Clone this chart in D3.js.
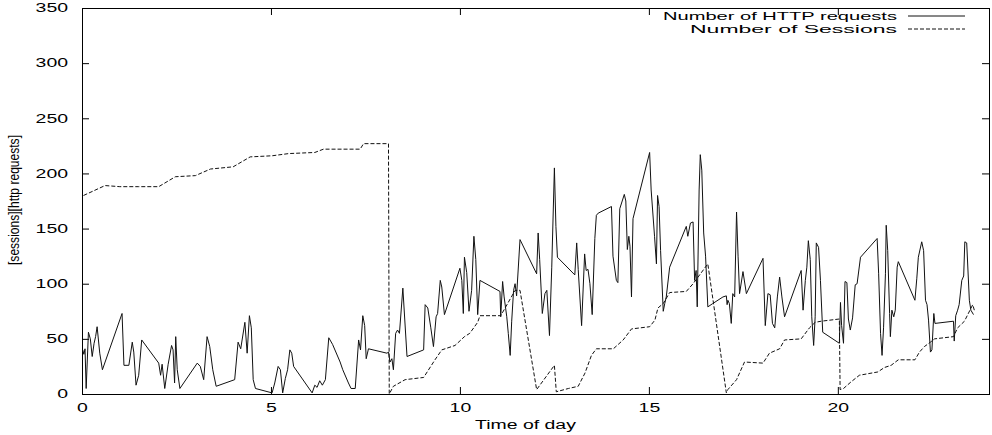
<!DOCTYPE html>
<html lang="en">

<head>
  <meta charset="utf-8">
  <script src="https://d3js.org/d3.v7.min.js"></script>
  <style>
    body {
      margin: 0;
      background: #fff;
      overflow: hidden;
    }

    svg {
      display: block;
    }

    text {
      font-family: "Liberation Sans", Arial, sans-serif;
      font-size: 12px;
      fill: #000;
    }
  </style>
</head>

<body>
  <svg width="992" height="435"></svg>
  <script>
    // values: hour of day, count
    const httpHours = [0.02, 0.05, 0.08, 0.11, 0.17, 0.22, 0.27, 0.32, 0.36, 0.40, 0.47, 0.54, 1.06, 1.11, 1.24, 1.33, 1.37, 1.43, 1.50, 1.58,
      2.03, 2.08, 2.12, 2.19, 2.28, 2.37, 2.41, 2.45, 2.48, 2.52, 2.59, 3.05, 3.13, 3.22, 3.31, 3.38, 3.46, 3.55, 4.04, 4.13,
      4.20, 4.31, 4.37, 4.43, 4.48, 4.53, 4.59, 5.03, 5.10, 5.19, 5.25, 5.31, 5.38, 5.44, 5.50, 5.55, 5.60, 6.09, 6.16, 6.22,
      6.29, 6.36, 6.44, 6.53, 6.63, 6.83, 6.90, 7.05, 7.12, 7.23, 7.32, 7.37, 7.43, 7.48, 7.52, 7.58, 8.07, 8.11, 8.15, 8.20,
      8.24, 8.30, 8.35, 8.40, 8.49, 8.60, 9.04, 9.08, 9.15, 9.23, 9.30, 9.37, 9.41, 9.48, 9.52, 9.59, 10.00, 10.05, 10.09, 10.12,
      10.18, 10.24, 10.31, 10.37, 10.42, 10.47, 10.53, 11.06, 11.08, 11.13, 11.17, 11.24, 11.28, 11.33, 11.37, 11.42, 11.46, 11.50, 11.59, 12.03,
      12.07, 12.11, 12.18, 12.25, 12.30, 12.37, 12.43, 12.50, 12.54, 12.58, 13.04, 13.09, 13.13, 13.22, 13.30, 13.34, 13.39, 13.44, 13.50, 13.57,
      13.61, 13.66, 14.01, 14.05, 14.14, 14.18, 14.23, 14.35, 14.39, 14.43, 14.47, 14.50, 14.54, 14.58, 15.02, 15.06, 15.15, 15.20, 15.23, 15.27,
      15.31, 15.38, 15.42, 15.46, 15.55, 15.99, 16.03, 16.10, 16.17, 16.21, 16.25, 16.28, 16.33, 16.36, 16.40, 16.45, 16.50, 16.56, 16.69, 16.96,
      17.05, 17.07, 17.09, 17.13, 17.18, 17.22, 17.27, 17.32, 17.36, 17.40, 17.49, 17.58, 18.02, 18.08, 18.15, 18.21, 18.27, 18.33, 18.40, 18.46,
      18.52, 18.59, 19.03, 19.08, 19.14, 19.18, 19.22, 19.27, 19.31, 19.36, 19.40, 19.43, 19.49, 19.54, 19.60, 20.04, 20.07, 20.10, 20.15, 20.19,
      20.24, 20.28, 20.33, 20.39, 20.46, 20.51, 20.60, 21.04, 21.08, 21.13, 21.17, 21.21, 21.26, 21.28, 21.32, 21.37, 21.39, 21.43, 21.48, 21.52,
      21.57, 21.60, 22.04, 22.09, 22.13, 22.22, 22.27, 22.32, 22.36, 22.40, 22.45, 22.49, 22.54, 22.57, 23.06, 23.08, 23.12, 23.17, 23.21, 23.28,
      23.33, 23.36, 23.41, 23.48, 23.52, 23.59];
    const httpCounts = [40, 36, 41, 5, 56, 50, 34, 46, 52, 61, 37, 22, 73, 26, 26, 47, 38, 8, 17, 49,
      28, 17, 27, 5, 27, 44, 40, 10, 52, 22, 5, 28, 25, 13, 52, 43, 22, 7, 13, 47,
      41, 65, 37, 71, 60, 13, 5, 1, 10, 25, 22, 1, 14, 22, 40, 37, 25, 1, 8, 6,
      12, 8, 13, 51, 45, 29, 22, 10, 5, 5, 49, 40, 71, 62, 32, 41, 37, 38, 29, 32,
      22, 55, 58, 55, 96, 34, 40, 81, 78, 60, 43, 70, 73, 103, 97, 72, 114, 103, 73, 124,
      110, 75, 94, 143, 122, 72, 103, 93, 70, 102, 88, 70, 55, 35, 66, 94, 100, 89, 140, 109,
      146, 122, 73, 91, 94, 53, 115, 205, 152, 124, 108, 137, 113, 62, 127, 112, 113, 100, 72, 141,
      162, 164, 170, 125, 103, 101, 168, 181, 175, 131, 143, 134, 88, 159, 219, 185, 143, 118, 180, 170,
      130, 75, 82, 88, 115, 152, 143, 155, 156, 103, 112, 79, 185, 217, 203, 146, 125, 79, 82, 88,
      89, 81, 85, 82, 64, 91, 88, 165, 125, 91, 111, 91, 123, 62, 91, 90, 64, 60, 88, 106,
      88, 70, 112, 76, 103, 115, 139, 122, 70, 44, 70, 137, 133, 103, 56, 46, 83, 62, 46, 102,
      101, 68, 58, 69, 99, 100, 124, 141, 109, 55, 35, 60, 109, 153, 130, 73, 52, 76, 70, 76,
      115, 120, 85, 105, 124, 138, 130, 85, 81, 67, 38, 40, 73, 64, 66, 48, 71, 76, 81, 103,
      107, 138, 137, 85, 76, 72];

    const sessionHours = [0.04, 0.61, 1.0, 1.5, 2.03, 2.47, 3.0, 3.4, 4.0, 4.45, 5.03, 5.47, 6.16, 6.39, 7.36, 7.45, 8.11, 8.13, 8.24, 8.55,
      9.04, 9.34, 9.52, 9.87, 10.12, 10.26, 10.47, 10.53, 11.08, 11.46, 11.59, 12.03, 12.50, 12.55, 12.87, 13.13, 13.31, 13.48, 13.61, 14.06,
      14.32, 14.54, 15.02, 15.16, 15.24, 15.38, 15.55, 15.99, 16.17, 16.30, 16.56, 17.05, 17.09, 17.32, 17.53, 18.02, 18.19, 18.46, 18.59, 19.03,
      19.25, 19.40, 19.56, 20.04, 20.06, 20.15, 20.35, 20.57, 21.06, 21.23, 21.41, 21.60, 22.04, 22.16, 22.29, 22.45, 22.56, 23.06, 23.17, 23.35,
      23.57, 23.62];
    const sessionCounts = [180, 189, 188, 188, 188, 197, 198, 204, 206, 215, 216, 218, 219, 222, 222, 227, 227, 0, 7, 13,
      15, 31, 40, 44, 52, 55, 65, 71, 71, 94, 94, 4, 26, 2, 5, 7, 19, 35, 41, 41,
      49, 59, 61, 67, 78, 82, 92, 93, 100, 106, 118, 1, 4, 13, 29, 28, 37, 41, 49, 50,
      60, 65, 66, 68, 4, 5, 11, 17, 20, 24, 26, 31, 31, 38, 43, 47, 50, 52, 60, 66,
      81, 75];

    const xTicks = [0, 5, 10, 15, 20];
    const yTicks = [0, 50, 100, 150, 200, 250, 300, 350];
    const seriesNames = ["Number of HTTP requests", "Number of Sessions"];
    const xTitle = "Time of day";
    const yTitle = "[sessions][http requests]";

    const svg = d3.select("svg");
    const plotLeft = 82, plotRight = 989, plotTop = 8, plotBottom = 394;
    const widen = 1.62; // the reference type is stretched sideways

    const x = d3.scaleLinear().domain([0, 24]).range([plotLeft, plotRight]);
    const y = d3.scaleLinear().domain([0, 350]).range([plotBottom, plotTop]);

    function stretch(sel, k) {
      sel.each(function () {
        const w = this.getComputedTextLength();
        d3.select(this).attr("textLength", w * k).attr("lengthAdjust", "spacingAndGlyphs");
      });
    }

    svg.append("rect")
      .attr("width", 992).attr("height", 435).attr("fill", "#fff");

    // axes, ticks pointing inward like gnuplot
    const gx = svg.append("g")
      .attr("transform", `translate(0,${plotBottom})`)
      .call(d3.axisBottom(x).tickValues(xTicks).tickSize(-7).tickSizeOuter(0).tickPadding(9.5));
    const gy = svg.append("g")
      .attr("transform", `translate(${plotLeft},0)`)
      .call(d3.axisLeft(y).tickValues(yTicks).tickSize(-7).tickSizeOuter(0).tickPadding(14));
    svg.append("g")
      .attr("transform", `translate(0,${plotTop})`)
      .call(d3.axisTop(x).tickValues(xTicks).tickSize(-7).tickSizeOuter(0).tickFormat(""));
    svg.append("g")
      .attr("transform", `translate(${plotRight},0)`)
      .call(d3.axisRight(y).tickValues(yTicks).tickSize(-7).tickSizeOuter(0).tickFormat(""));

    svg.selectAll(".domain").remove();
    svg.selectAll(".tick line").attr("stroke", "#000");
    svg.selectAll("g").attr("font-family", null).attr("font-size", null);
    gx.selectAll("text").call(stretch, widen);
    gy.selectAll("text").call(stretch, widen);

    svg.append("rect")
      .attr("x", plotLeft).attr("y", plotTop)
      .attr("width", plotRight - plotLeft).attr("height", plotBottom - plotTop)
      .attr("fill", "none").attr("stroke", "#000").attr("stroke-width", 1)
      .attr("shape-rendering", "crispEdges");

    const line = d3.line()
      .x(d => x(d[0]))
      .y(d => y(d[1]));

    const httpData = httpHours.map((h, i) => [h, httpCounts[i]]);
    const sessionData = sessionHours.map((h, i) => [h, sessionCounts[i]]);

    svg.append("path")
      .datum(httpData)
      .attr("d", line)
      .attr("fill", "none")
      .attr("stroke", "#111")
      .attr("stroke-width", 1);

    svg.append("path")
      .datum(sessionData)
      .attr("d", line)
      .attr("fill", "none")
      .attr("stroke", "#111")
      .attr("stroke-width", 1)
      .attr("stroke-dasharray", "4,2");

    // legend
    const legend = svg.append("g");
    const legendY = [20, 33];
    const legendWidth = [234, 207];
    legend.selectAll("text")
      .data(seriesNames)
      .join("text")
      .attr("x", 897)
      .attr("y", (d, i) => legendY[i])
      .attr("text-anchor", "end")
      .style("font-size", "11px")
      .attr("textLength", (d, i) => legendWidth[i])
      .attr("lengthAdjust", "spacingAndGlyphs")
      .text(d => d);
    legend.selectAll("line")
      .data(seriesNames)
      .join("line")
      .attr("x1", 908).attr("x2", 965)
      .attr("y1", (d, i) => legendY[i] - 4)
      .attr("y2", (d, i) => legendY[i] - 4)
      .attr("stroke", "#111")
      .attr("stroke-dasharray", (d, i) => i ? "4,2" : null);

    // titles
    svg.append("text")
      .attr("x", (plotLeft + plotRight) / 2 - 10)
      .attr("y", 429)
      .attr("text-anchor", "middle")
      .text(xTitle)
      .call(stretch, widen);

    svg.append("text")
      .attr("transform", "translate(19,200) rotate(-90)")
      .attr("text-anchor", "middle")
      .style("font-size", "15px")
      .attr("textLength", 130)
      .attr("lengthAdjust", "spacingAndGlyphs")
      .text(yTitle);
  </script>
</body>

</html>
